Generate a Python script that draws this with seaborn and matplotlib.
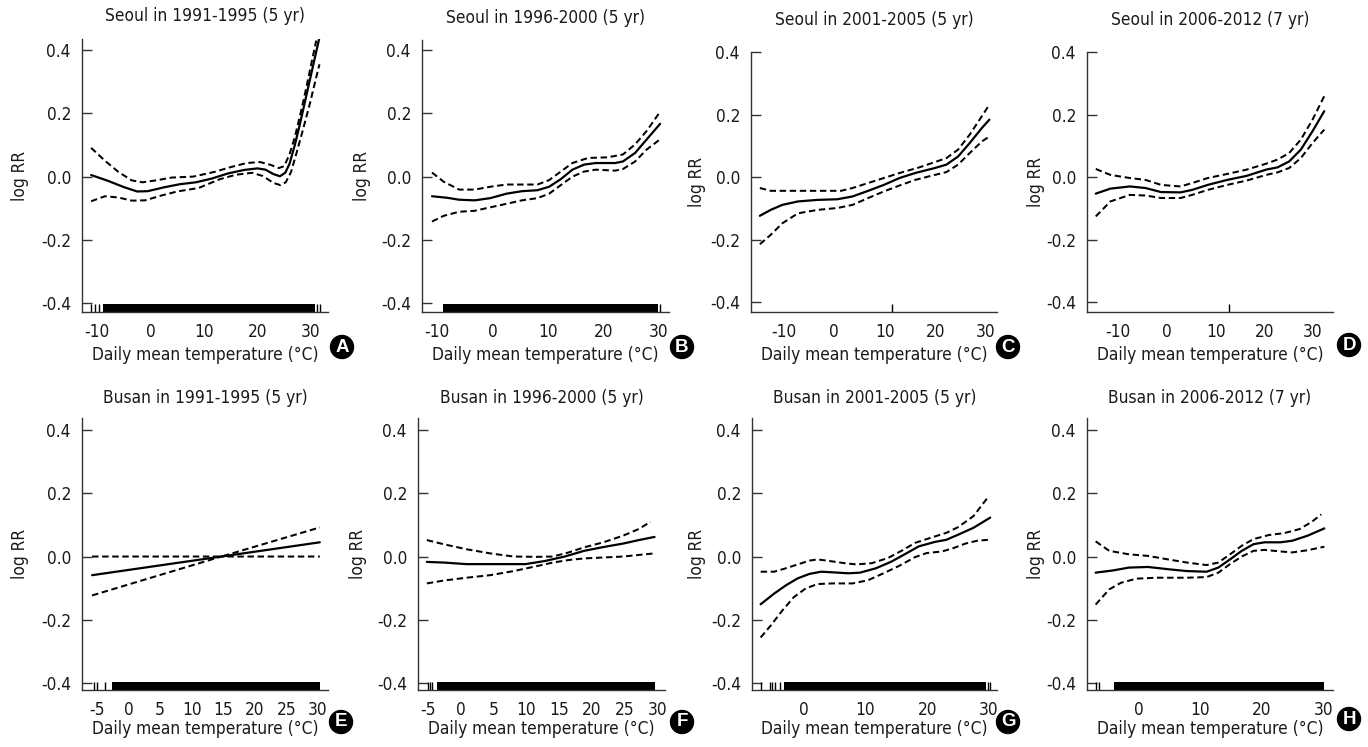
import matplotlib
matplotlib.use("Agg")
import matplotlib.pyplot as plt
from matplotlib import font_manager
import seaborn as sns

# ---------------- data ----------------
titles = ["Seoul in 1991-1995 (5 yr)", "Seoul in 1996-2000 (5 yr)",
          "Seoul in 2001-2005 (5 yr)", "Seoul in 2006-2012 (7 yr)",
          "Busan in 1991-1995 (5 yr)", "Busan in 1996-2000 (5 yr)",
          "Busan in 2001-2005 (5 yr)", "Busan in 2006-2012 (7 yr)"]
letters = ["A", "B", "C", "D", "E", "F", "G", "H"]
xlabel_text = "Daily mean temperature (°C)"
ylabel_text = "log RR"
yticks = [-0.4, -0.2, 0.0, 0.2, 0.4]
xticks_seoul = [-10, 0, 10, 20, 30]
xticks_busan_early = [-5, 0, 5, 10, 15, 20, 25, 30]
xticks_busan_late = [0, 10, 20, 30]

# Panel A
A_fit_x = [-11.1, -8, -5, -2.5, -0.5, 2.5, 5.5, 8.5, 11.5, 14.5, 17.5, 20, 21.5, 23, 24.2, 25.2, 26, 27, 28, 29, 30, 31, 31.6]
A_fit = [0.005, -0.013, -0.033, -0.047, -0.046, -0.034, -0.024, -0.018, -0.006, 0.01, 0.021, 0.026, 0.022, 0.008, 0.001, 0.012, 0.04, 0.1, 0.17, 0.245, 0.32, 0.395, 0.44]
A_up_x = [-11.1, -8.5, -6, -3.5, -1.5, 1, 4, 8, 12, 15, 18, 20.5, 22.5, 24, 25, 26, 27, 28, 29, 30, 31]
A_up = [0.091, 0.05, 0.015, -0.012, -0.018, -0.012, -0.003, 0.0, 0.015, 0.03, 0.043, 0.046, 0.037, 0.027, 0.033, 0.07, 0.125, 0.195, 0.27, 0.35, 0.43]
A_lo_x = [-11.1, -8.5, -6, -3.5, -1, 2, 5, 9, 13, 16, 19, 21, 23, 24.3, 25.3, 26.3, 27.3, 28.5, 29.8, 30.8, 31.6]
A_lo = [-0.078, -0.062, -0.066, -0.076, -0.075, -0.06, -0.047, -0.036, -0.008, 0.006, 0.012, 0.002, -0.02, -0.027, -0.018, 0.015, 0.074, 0.147, 0.23, 0.3, 0.355]

# Panel B
B_fit_x = [-10.9, -8.1, -6.0, -3.2, -0.4, 2.5, 5.3, 8.1, 10.2, 12.3, 14.4, 16.5, 18.6, 22.1, 23.5, 25.7, 27.8, 30.2]
B_fit = [-0.062, -0.067, -0.073, -0.075, -0.068, -0.054, -0.046, -0.043, -0.032, -0.008, 0.022, 0.038, 0.043, 0.043, 0.048, 0.075, 0.118, 0.167]
B_up_x = [-10.9, -8.8, -6.0, -3.2, -0.4, 2.5, 8.1, 10.2, 12.3, 14.4, 17.2, 20.7, 23.5, 25.7, 27.8, 30.2]
B_up = [0.013, -0.016, -0.041, -0.041, -0.032, -0.025, -0.025, -0.011, 0.016, 0.043, 0.059, 0.061, 0.07, 0.102, 0.145, 0.205]
B_lo_x = [-10.9, -8.8, -6.0, -3.2, -0.4, 2.5, 5.3, 8.1, 10.2, 12.3, 14.4, 16.5, 18.6, 22.1, 23.5, 25.7, 27.8, 30.2]
B_lo = [-0.142, -0.124, -0.111, -0.108, -0.097, -0.086, -0.075, -0.068, -0.054, -0.027, 0.0, 0.016, 0.022, 0.019, 0.024, 0.048, 0.086, 0.118]

# Panel C
C_fit_x = [-14.75, -12.6, -10.3, -7.2, -3.3, 0.6, 3.6, 6.7, 9.8, 12.9, 16, 19.9, 22.2, 24.5, 26.8, 29.2, 30.7]
C_fit = [-0.124, -0.105, -0.089, -0.078, -0.073, -0.071, -0.062, -0.044, -0.025, -0.003, 0.013, 0.029, 0.04, 0.066, 0.109, 0.157, 0.184]
C_up_x = [-14.75, -12.6, -7.2, -3.3, 1.3, 3.6, 6.7, 9.8, 12.9, 16.8, 19.9, 22.2, 24.5, 26.8, 29.2, 30.7]
C_up = [-0.035, -0.044, -0.044, -0.044, -0.044, -0.035, -0.019, -0.003, 0.013, 0.031, 0.048, 0.061, 0.088, 0.136, 0.195, 0.232]
C_lo_x = [-14.75, -12.6, -10.3, -7.2, -3.3, 0.6, 3.6, 6.7, 9.8, 12.9, 16, 19.9, 22.2, 24.5, 26.8, 29.2, 30.7]
C_lo = [-0.215, -0.185, -0.148, -0.116, -0.105, -0.099, -0.089, -0.067, -0.046, -0.027, -0.009, 0.007, 0.016, 0.04, 0.077, 0.114, 0.13]

# Panel D
D_x = [-14.6, -11.6, -7.6, -4.4, -1.2, 2.8, 5.2, 8.4, 12.4, 16.4, 20.4, 22.7, 25.1, 27.5, 29.9, 32.3]
D_fit = [-0.053, -0.037, -0.03, -0.035, -0.048, -0.049, -0.041, -0.025, -0.009, 0.004, 0.024, 0.031, 0.05, 0.088, 0.147, 0.211]
D_up = [0.026, 0.007, -0.003, -0.009, -0.025, -0.03, -0.019, -0.003, 0.01, 0.024, 0.043, 0.056, 0.077, 0.12, 0.184, 0.259]
D_lo = [-0.126, -0.078, -0.057, -0.059, -0.067, -0.067, -0.057, -0.041, -0.025, -0.011, 0.007, 0.015, 0.029, 0.061, 0.109, 0.152]

# Panel E
E_x = [-5.8, 14.7, 30.3]
E_fit = [-0.059, 0.0, 0.045]
E_up = [0.0, 0.0, 0.092]
E_lo = [-0.123, 0.0, 0.0]

# Panel F
F_fit_x = [-5.15, -2.6, 0.9, 4.5, 9.9, 12.9, 15.9, 18.85, 21.8, 24.8, 27.2, 29.6]
F_fit = [-0.017, -0.019, -0.024, -0.024, -0.024, -0.014, 0.0, 0.018, 0.03, 0.041, 0.052, 0.062]
F_up_x = [-5.15, -2.6, 0.9, 4.5, 8.1, 11.7, 14.1, 16.5, 18.85, 21.8, 24.8, 27.2, 29.0]
F_up = [0.052, 0.039, 0.023, 0.01, 0.0, -0.001, 0.0, 0.013, 0.029, 0.045, 0.066, 0.087, 0.11]
F_lo_x = [-5.15, -2.6, 0.9, 4.5, 8.1, 11.7, 14.1, 16.5, 18.85, 21.8, 24.8, 27.2, 29.6]
F_lo = [-0.085, -0.076, -0.067, -0.059, -0.046, -0.03, -0.019, -0.011, -0.006, -0.003, 0.0, 0.005, 0.01]

# Panel G
G_fit_x = [-7, -4.8, -2.9, -1, 0.9, 2.8, 4.7, 7.2, 9.1, 11.7, 14.2, 16.7, 18.6, 21.2, 23.1, 25, 27.5, 30.2]
G_fit = [-0.151, -0.117, -0.091, -0.069, -0.055, -0.048, -0.05, -0.053, -0.051, -0.037, -0.016, 0.011, 0.032, 0.046, 0.053, 0.069, 0.091, 0.123]
G_up_x = [-7, -4.8, -2.9, -1, 0.9, 2.2, 4.1, 6.6, 8.5, 11, 13.6, 16.1, 18, 20.5, 23.1, 25, 27.5, 29.7]
G_up = [-0.048, -0.048, -0.037, -0.025, -0.013, -0.009, -0.014, -0.021, -0.025, -0.021, -0.005, 0.021, 0.043, 0.059, 0.075, 0.093, 0.128, 0.184]
G_lo_x = [-7, -5.4, -3.5, -1.6, 0.3, 2.2, 4.7, 7.9, 10.4, 12.9, 15.5, 18, 19.9, 22.4, 24.3, 26.2, 28.1, 30]
G_lo = [-0.256, -0.219, -0.171, -0.128, -0.101, -0.087, -0.085, -0.085, -0.075, -0.053, -0.029, -0.002, 0.011, 0.016, 0.027, 0.041, 0.05, 0.053]

# Panel H
H_fit_x = [-7, -4.2, -1.6, 1.5, 4.7, 7.8, 11, 12.9, 14.8, 16.7, 18.6, 20.4, 23, 24.9, 27.4, 30.1]
H_fit = [-0.051, -0.044, -0.035, -0.033, -0.04, -0.046, -0.048, -0.035, -0.009, 0.018, 0.039, 0.045, 0.045, 0.05, 0.066, 0.089]
H_up_x = [-7, -4.8, -1.6, 1.5, 4.7, 7.8, 11, 12.9, 14.8, 16.7, 18.6, 21.1, 23.6, 26.1, 28, 29.6]
H_up = [0.048, 0.018, 0.007, 0.002, -0.009, -0.019, -0.027, -0.019, 0.007, 0.034, 0.055, 0.068, 0.074, 0.087, 0.109, 0.133]
H_lo_x = [-7, -4.8, -2.9, -0.4, 2.8, 7.8, 11, 12.9, 14.8, 16.7, 18.6, 20.4, 23, 24.9, 27.4, 30.1]
H_lo = [-0.152, -0.104, -0.083, -0.07, -0.067, -0.067, -0.065, -0.051, -0.024, 0.0, 0.018, 0.021, 0.016, 0.013, 0.02, 0.031]

# Rug of observed temperatures: isolated ticks and dense (start, end) runs
A_rug_ticks = [-11.1, -10.4, -9.7, 31.2, 31.7]
A_rug_runs = [(-8.8, 30.7)]
B_rug_ticks = [30.1]
B_rug_runs = [(-8.9, 29.9)]
C_rug_ticks = [11.5]
C_rug_runs = []
D_rug_ticks = [12.7]
D_rug_runs = []
E_rug_ticks = [-5.5, -5.0, -3.7]
E_rug_runs = [(-2.7, 30.3)]
F_rug_ticks = [-5.0, -4.6, -4.3]
F_rug_runs = [(-3.6, 29.6)]
G_rug_ticks = [-6.9, -5.5, -5.1, -4.7, -3.8, 29.9, 30.2]
G_rug_runs = [(-3.2, 29.5)]
H_rug_ticks = [-6.9, -6.5]
H_rug_runs = [(-4.05, 30.0)]

# ---------------- layout (pixel boxes: left, right, top, bottom) ----------------
W, H = 1368, 747
boxes = [(82, 328, 39, 312), (422, 669, 40, 312), (751, 997, 52, 312), (1087, 1333, 52, 312),
         (82, 328, 418, 690), (418, 665, 418, 690), (752, 997, 418, 690), (1087, 1333, 418, 690)]
xlims = [(-12.8, 33.2), (-12.7, 31.8), (-16.5, 32.2), (-16.4, 34.1),
         (-7.4, 31.6), (-6.5, 31.2), (-8.4, 31.3), (-8.4, 31.5)]
ylims = [(-0.428, 0.435), (-0.428, 0.432), (-0.432, 0.4005), (-0.432, 0.4005),
         (-0.422, 0.438), (-0.422, 0.438), (-0.422, 0.438), (-0.422, 0.438)]
xticks_all = [xticks_seoul] * 4 + [xticks_busan_early, xticks_busan_early, xticks_busan_late, xticks_busan_late]
title_y = [16, 18, 20, 20, 398, 398, 398, 398]
xlabel_y = [355, 355, 355, 355, 729, 729, 729, 729]
ylabel_x = [20, 362, 697, 1036, 20, 358, 697, 1036]
badge_xy = [(342, 347), (682, 347), (1008, 347), (1349, 345),
            (341, 722), (682, 722), (1008, 722), (1349, 719)]

panels = [
    (A_fit_x, A_fit, A_up_x, A_up, A_lo_x, A_lo, A_rug_ticks, A_rug_runs),
    (B_fit_x, B_fit, B_up_x, B_up, B_lo_x, B_lo, B_rug_ticks, B_rug_runs),
    (C_fit_x, C_fit, C_up_x, C_up, C_lo_x, C_lo, C_rug_ticks, C_rug_runs),
    (D_x, D_fit, D_x, D_up, D_x, D_lo, D_rug_ticks, D_rug_runs),
    (E_x, E_fit, E_x, E_up, E_x, E_lo, E_rug_ticks, E_rug_runs),
    (F_fit_x, F_fit, F_up_x, F_up, F_lo_x, F_lo, F_rug_ticks, F_rug_runs),
    (G_fit_x, G_fit, G_up_x, G_up, G_lo_x, G_lo, G_rug_ticks, G_rug_runs),
    (H_fit_x, H_fit, H_up_x, H_up, H_lo_x, H_lo, H_rug_ticks, H_rug_runs),
]

sns.set_theme(style="ticks")

# pick a condensed sans if one is installed, else Arial-metric Liberation Sans
names = {f.name for f in font_manager.fontManager.ttflist}
condensed_dejavu = [f for f in font_manager.fontManager.ttflist
                    if f.name == "DejaVu Sans" and "condensed" in str(f.stretch).lower()]
if "Liberation Sans Narrow" in names:
    plt.rcParams["font.family"] = ["Liberation Sans Narrow", "DejaVu Sans"]
    FS = 13
elif condensed_dejavu:
    plt.rcParams["font.family"] = ["DejaVu Sans"]
    plt.rcParams["font.stretch"] = "condensed"
    FS = 12.4
else:
    plt.rcParams["font.family"] = ["Liberation Sans", "DejaVu Sans"]
    FS = 12
plt.rcParams["axes.unicode_minus"] = False

TXT = "#1a1a1a"
fig = plt.figure(figsize=(W / 100, H / 100), dpi=100)
fig.patch.set_facecolor("white")

RUG_H = 0.03
for i, (fx, fy, ux, uy, lx, ly, rticks, rruns) in enumerate(panels):
    l, r, t, b = boxes[i]
    ax = fig.add_axes([l / W, 1 - b / H, (r - l) / W, (b - t) / H])
    ax.set_facecolor("white")
    sns.lineplot(x=fx, y=fy, ax=ax, color="black", lw=1.6, estimator=None, sort=False)
    sns.lineplot(x=ux, y=uy, ax=ax, color="black", lw=1.45, estimator=None, sort=False,
                 linestyle=(0, (3.2, 1.8)))
    sns.lineplot(x=lx, y=ly, ax=ax, color="black", lw=1.45, estimator=None, sort=False,
                 linestyle=(0, (3.2, 1.8)))
    if rticks:
        sns.rugplot(x=rticks, ax=ax, height=RUG_H, color="black", lw=1.3, expand_margins=False)
    for (s, e) in rruns:
        ax.axvspan(s, e, ymin=0, ymax=RUG_H, color="black", lw=0)
    ax.set_xlim(*xlims[i])
    ax.set_ylim(*ylims[i])
    ax.set_xticks(xticks_all[i])
    ax.set_xticklabels([str(v) for v in xticks_all[i]])
    ax.set_yticks(yticks)
    ax.set_yticklabels([f"{v:.1f}" for v in yticks])
    ax.tick_params(axis="y", direction="in", length=7, width=1.0, color="#333333",
                   labelsize=FS, labelcolor=TXT, pad=8)
    ax.tick_params(axis="x", length=0, labelsize=FS, labelcolor=TXT, pad=8)
    for side in ["top", "right"]:
        ax.spines[side].set_visible(False)
    for side in ["left", "bottom"]:
        ax.spines[side].set_color("#333333")
        ax.spines[side].set_linewidth(1.0)
    ax.set_xlabel("")
    ax.set_ylabel("")
    cx = (l + r) / 2
    fig.text(cx / W, 1 - title_y[i] / H, titles[i], ha="center", va="center",
             fontsize=FS, color=TXT)
    fig.text(cx / W, 1 - xlabel_y[i] / H, xlabel_text, ha="center", va="center",
             fontsize=FS, color=TXT)
    fig.text(ylabel_x[i] / W, 1 - ((t + b) / 2) / H, ylabel_text, ha="center", va="center",
             rotation=90, fontsize=FS, color=TXT)
    bx, by = badge_xy[i]
    fig.text(bx / W, 1 - by / H, letters[i], ha="center", va="center", color="white",
             fontsize=13.5, fontweight="bold", family=["Liberation Sans", "DejaVu Sans"],
             fontstretch="normal",
             bbox=dict(boxstyle="circle,pad=0.16", fc="black", ec="black"))

fig.savefig("out.png", dpi=100, facecolor="white")
